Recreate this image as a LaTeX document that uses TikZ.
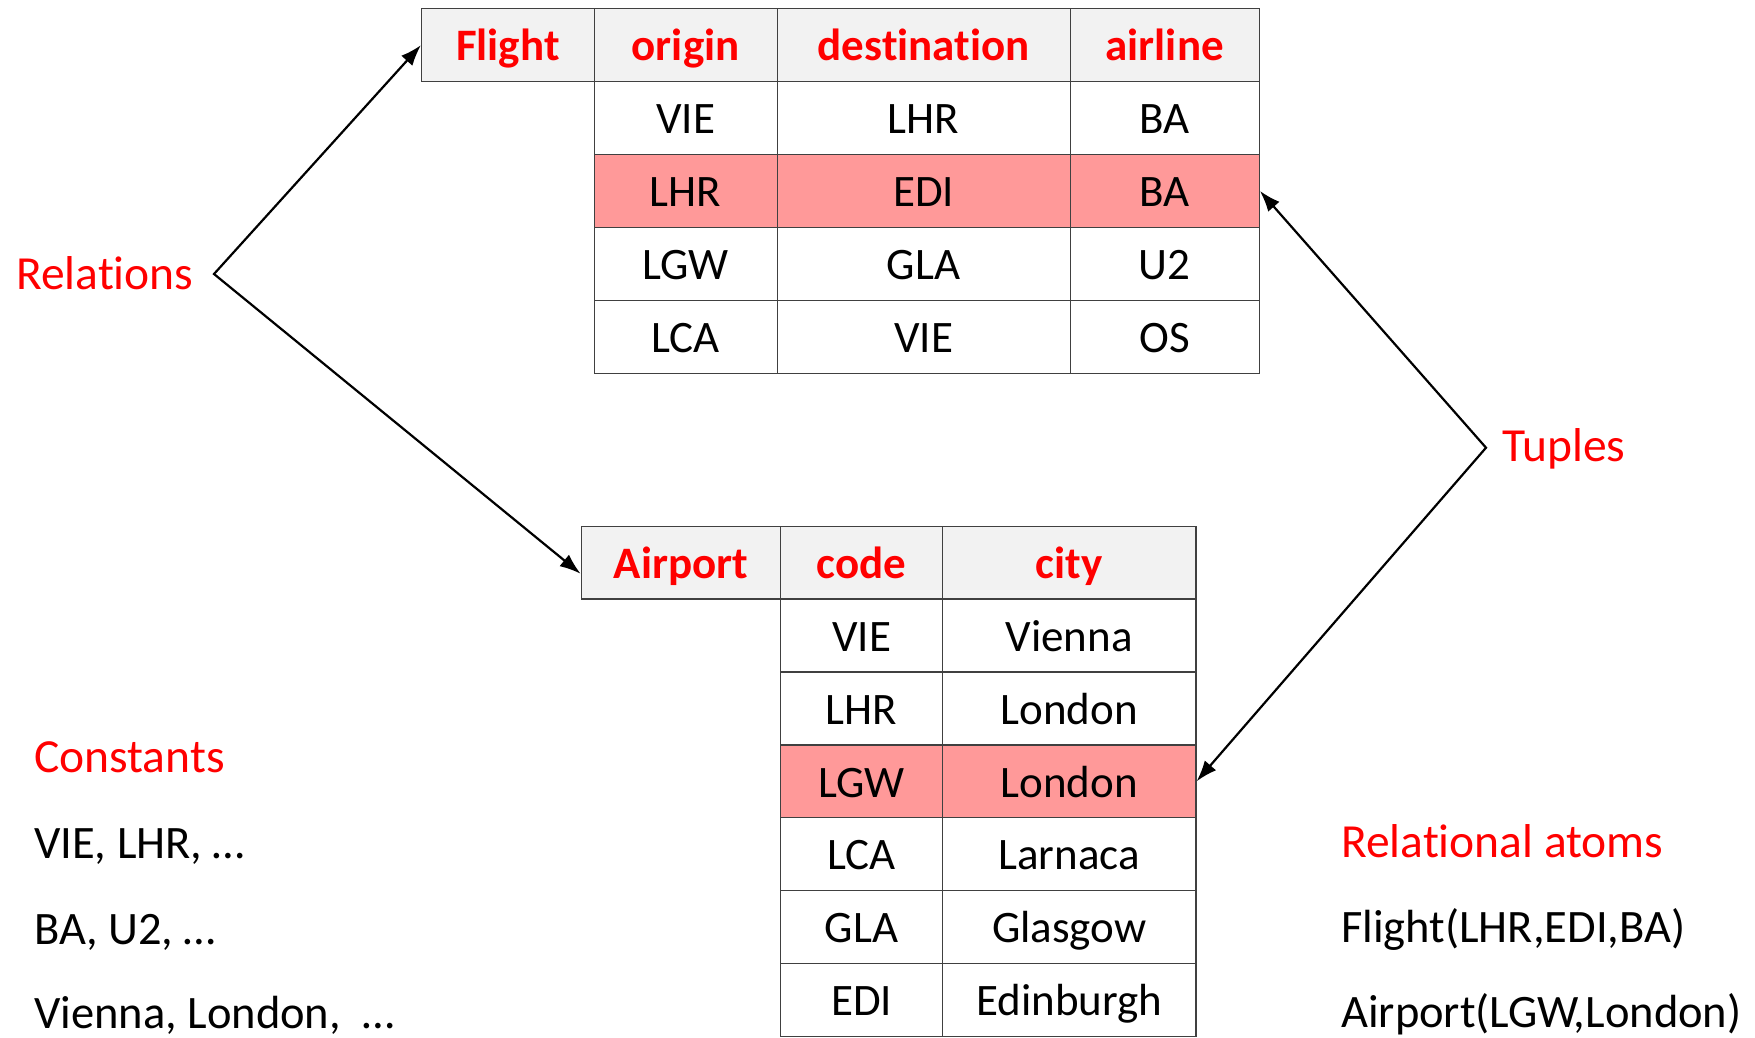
\documentclass[tikz,border=0pt]{standalone}
\usepackage{fontspec}
\setmainfont[Ligatures=NoCommon]{Carlito}
\usetikzlibrary{arrows.meta,calc}
\definecolor{hdrgray}{HTML}{F2F2F2}
\definecolor{hlred}{HTML}{FF9999}
\definecolor{lblred}{HTML}{FF0000}
\begin{document}
\begin{tikzpicture}[x=1pt,y=-1pt,
 cell/.style={draw=black!75, line width=1.3pt, inner sep=0pt, anchor=north west,
   minimum height=72.9pt, text height=31.5pt, text depth=0pt,
   font=\fontsize{45}{52}\selectfont},
 hdr/.style={cell, fill=hdrgray, text=lblred, font=\fontsize{45}{52}\selectfont\bfseries},
 hl/.style={cell, fill=hlred},
 lbl/.style={anchor=base west, inner sep=0pt, font=\fontsize{46.5}{55}\selectfont},
 redlbl/.style={lbl, text=lblred, font=\fontsize{47.5}{56}\selectfont},
 arr/.style={line width=2.2pt, line join=miter,
   {Latex[length=21pt,width=15pt]}-{Latex[length=21pt,width=15pt]}},
]
\useasboundingbox (0,0) rectangle (1755,1037);

% ---------- Flight table ----------
\node[hdr, minimum width=172.5pt] (fH)  at (421,8)    {Flight};
\node[hdr, minimum width=183pt]   (fH1) at (593.5,8)  {origin};
\node[hdr, minimum width=293pt]   (fH2) at (776.5,8)  {destination};
\node[hdr, minimum width=189.1pt] (fH3) at (1069.5,8) {airline};

\node[cell, minimum width=183pt]   (f1c1) at (593.5,80.9)  {VIE};
\node[cell, minimum width=293pt]   (f1c2) at (776.5,80.9)  {LHR};
\node[cell, minimum width=189.1pt] (f1c3) at (1069.5,80.9) {BA};

\node[hl, minimum width=183pt]   (f2c1) at (593.5,153.8)  {LHR};
\node[hl, minimum width=293pt]   (f2c2) at (776.5,153.8)  {EDI};
\node[hl, minimum width=189.1pt] (f2c3) at (1069.5,153.8) {BA};

\node[cell, minimum width=183pt]   (f3c1) at (593.5,226.7)  {LGW};
\node[cell, minimum width=293pt]   (f3c2) at (776.5,226.7)  {GLA};
\node[cell, minimum width=189.1pt] (f3c3) at (1069.5,226.7) {U2};

\node[cell, minimum width=183pt]   (f4c1) at (593.5,299.6)  {LCA};
\node[cell, minimum width=293pt]   (f4c2) at (776.5,299.6)  {VIE};
\node[cell, minimum width=189.1pt] (f4c3) at (1069.5,299.6) {OS};

% ---------- Airport table ----------
\node[hdr, minimum width=199.4pt] (aH)  at (580.6,525.5) {Airport};
\node[hdr, minimum width=162pt]   (aH1) at (780,525.5)   {code};
\node[hdr, minimum width=253.3pt] (aH2) at (942,525.5)   {city};

\node[cell, minimum width=162pt]   (a1c1) at (780,598.4) {VIE};
\node[cell, minimum width=253.3pt] (a1c2) at (942,598.4) {Vienna};
\node[cell, minimum width=162pt]   (a2c1) at (780,671.3) {LHR};
\node[cell, minimum width=253.3pt] (a2c2) at (942,671.3) {London};
\node[hl,   minimum width=162pt]   (a3c1) at (780,744.2) {LGW};
\node[hl,   minimum width=253.3pt] (a3c2) at (942,744.2) {London};
\node[cell, minimum width=162pt]   (a4c1) at (780,817.1) {LCA};
\node[cell, minimum width=253.3pt] (a4c2) at (942,817.1) {Larnaca};
\node[cell, minimum width=162pt]   (a5c1) at (780,890.0) {GLA};
\node[cell, minimum width=253.3pt] (a5c2) at (942,890.0) {Glasgow};
\node[cell, minimum width=162pt]   (a6c1) at (780,962.9) {EDI};
\node[cell, minimum width=253.3pt] (a6c2) at (942,962.9) {Edinburgh};

% ---------- labels ----------
\node[redlbl] (rel) at (16,289.6) {Relations};
\node[redlbl] (tup) at (1502,461) {Tuples};

\node[redlbl] (con)  at (34,772)  {Constants};
\node[lbl]    (con1) at (34,858)  {VIE, LHR, …};
\node[lbl]    (con2) at (34,944)  {BA, U2, …};
\node[lbl]    (con3) at (34,1028) {Vienna, London,\ \ …};

\node[redlbl] (ra)  at (1341,857)  {Relational atoms};
\node[lbl]    (ra1) at (1341,942)  {Flight(LHR,EDI,BA)};
\node[lbl]    (ra2) at (1341,1027) {Airport(LGW,London)};

% ---------- arrows ----------
\coordinate (rv) at (214,274);
\coordinate (aTip) at ($(aH.west)!0.3!(aH.south west)$);
\draw[arr] (fH.west) -- (rv) -- (aTip);

\coordinate (tv) at (1486,447.7);
\draw[arr] (f2c3.east) -- (tv) -- (a3c2.east);
\end{tikzpicture}
\end{document}
